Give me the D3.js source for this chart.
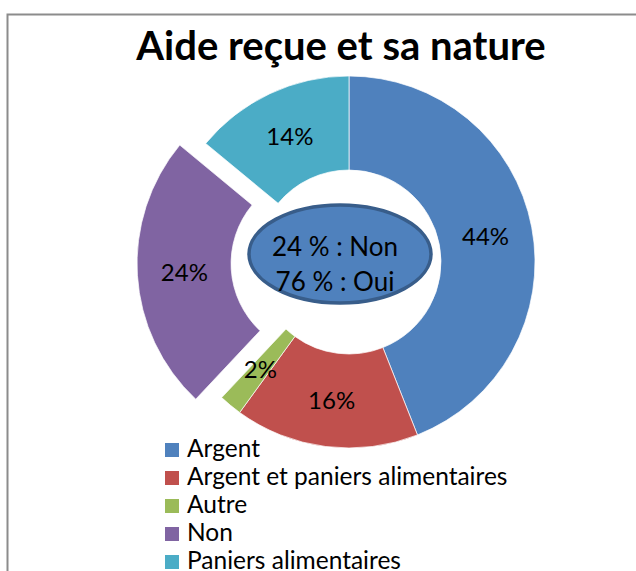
<!DOCTYPE html>
<html>
<head>
<meta charset="utf-8">
<script src="https://cdn.jsdelivr.net/npm/d3@7"></script>
<style>
  body { margin: 0; background: #fff; }
  svg { display: block; font-family: Lato, "Open Sans", sans-serif; }
</style>
</head>
<body>
<svg width="636" height="571"></svg>
<script>
var title = "Aide reçue et sa nature";
var categories = ["Argent", "Argent et paniers alimentaires", "Autre", "Non", "Paniers alimentaires"];
var values = [44, 16, 2, 24, 14];
var centerLines = ["24 % : Non", "76 % : Oui"];
var explodedCategory = "Non";

var colors = ["#4F81BD", "#C0504D", "#9BBB59", "#8064A2", "#4BACC6"];

var svg = d3.select("svg");
var cx = 349, cy = 262,
    outerR = 186, innerR = 92,
    explodeDist = 26;

// frame (only top and left edges are in the crop)
svg.append("path")
    .attr("d", "M7.5,571 L7.5,14.5 L636,14.5")
    .attr("fill", "none")
    .attr("stroke", "#8c8c8c")
    .attr("stroke-width", 2);

svg.append("text")
    .attr("x", 341)
    .attr("y", 60)
    .attr("text-anchor", "middle")
    .style("font-size", "40px")
    .style("font-weight", "bold")
    .attr("fill", "#000")
    .text(title);

var data = categories.map(function(c, i) {
    return {name: c, value: values[i], color: colors[i]};
});

var pie = d3.pie()
    .sort(null)
    .value(function(d) { return d.value; });

var arc = d3.arc()
    .innerRadius(innerR)
    .outerRadius(outerR);
var labelArc = d3.arc()
    .innerRadius((innerR + outerR) / 2)
    .outerRadius((innerR + outerR) / 2);

function offset(d) {
    if (d.data.name !== explodedCategory) return [0, 0];
    var a = (d.startAngle + d.endAngle) / 2;
    return [Math.sin(a) * explodeDist, -Math.cos(a) * explodeDist];
}

var g = svg.append("g")
    .attr("transform", "translate(" + cx + "," + cy + ")");

var slices = g.selectAll(".slice")
    .data(pie(data))
    .enter()
    .append("g")
    .attr("class", "slice")
    .attr("transform", function(d) {
        var o = offset(d);
        return "translate(" + o[0] + "," + o[1] + ")";
    });

slices.append("path")
    .attr("d", arc)
    .attr("fill", function(d) { return d.data.color; })
    .attr("stroke", "#fff")
    .attr("stroke-width", 0.7);

slices.append("text")
    .attr("transform", function(d) { return "translate(" + labelArc.centroid(d) + ")"; })
    .attr("text-anchor", "middle")
    .attr("dy", "0.36em")
    .style("font-size", "24px")
    .attr("fill", "#000")
    .text(function(d) { return d.data.value + "%"; });

// center bubble
svg.append("ellipse")
    .attr("cx", 340)
    .attr("cy", 254)
    .attr("rx", 91)
    .attr("ry", 49)
    .attr("fill", "#4F81BD")
    .attr("stroke", "#385D8A")
    .attr("stroke-width", 3.5);

svg.selectAll(".center-line")
    .data(centerLines)
    .enter()
    .append("text")
    .attr("class", "center-line")
    .attr("x", 335)
    .attr("y", function(d, i) { return 256 + i * 35; })
    .attr("text-anchor", "middle")
    .style("font-size", "26px")
    .attr("fill", "#000")
    .text(function(d) { return d; });

// legend
var legend = svg.append("g").attr("class", "legend");
var rows = legend.selectAll("g")
    .data(data)
    .enter()
    .append("g")
    .attr("transform", function(d, i) {
        return "translate(165," + (443 + i * 28) + ")";
    });
rows.append("rect")
    .attr("width", 14)
    .attr("height", 14)
    .attr("fill", function(d) { return d.color; });
rows.append("text")
    .attr("x", 22)
    .attr("y", 14)
    .style("font-size", "24.5px")
    .attr("fill", "#000")
    .text(function(d) { return d.name; });
</script>
</body>
</html>
